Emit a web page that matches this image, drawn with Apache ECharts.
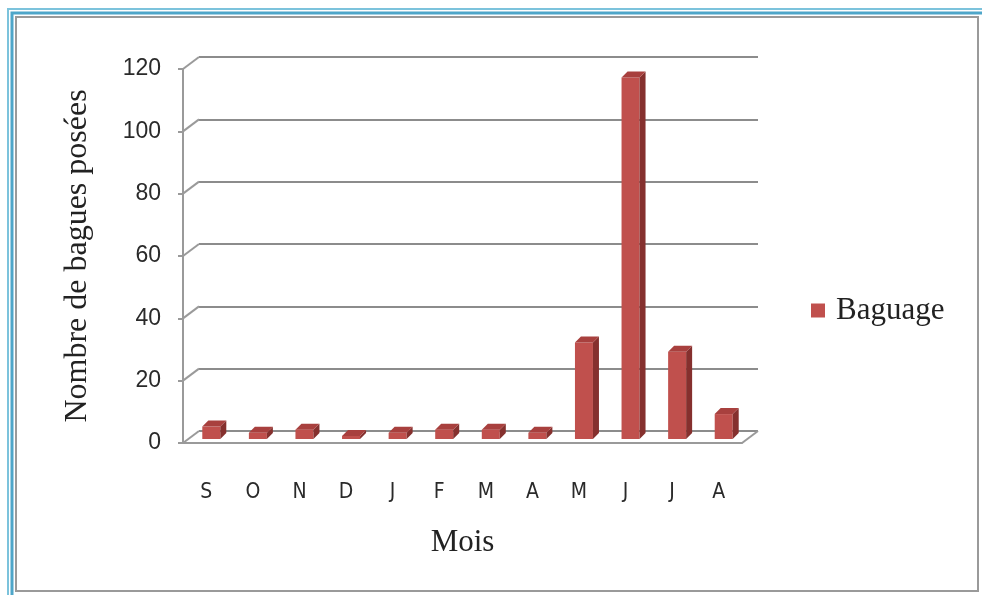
<!DOCTYPE html>
<html>
<head>
<meta charset="utf-8">
<script src="https://cdn.jsdelivr.net/npm/echarts@6/dist/echarts.min.js"></script>
<style>
  html, body { margin: 0; padding: 0; background: #fff; }
  #main { width: 982px; height: 595px; }
</style>
</head>
<body>
<div id="main"></div>
<script>
var mois = ['S', 'O', 'N', 'D', 'J', 'F', 'M', 'A', 'M', 'J', 'J', 'A'];
var baguage = [4, 2, 3, 1, 2, 3, 3, 2, 31, 116, 28, 8];
var yTicks = [0, 20, 40, 60, 80, 100, 120];

// depth of the fake 3d box
var depthX = 16, depthY = -12;

var chartDom = document.getElementById('main');
var myChart = echarts.init(chartDom);
var option;

function renderBar(params, api) {
    var i = api.value(0);
    var v = api.value(1);
    var base = api.coord([i, 0]);
    var top = api.coord([i, v]);
    var w = 18, dx = 6, dy = 6;
    var x0 = base[0] + 5 - w / 2;
    var yb = base[1] - 4;
    var yt = top[1] - 4;
    return {
        type: 'group',
        children: [
            {
                type: 'rect',
                shape: { x: x0, y: yt, width: w, height: yb - yt },
                style: { fill: '#C0504D' }
            },
            {
                type: 'polygon',
                shape: { points: [[x0 + w, yt], [x0 + w + dx, yt - dy], [x0 + w + dx, yb - dy], [x0 + w, yb]] },
                style: { fill: '#85302E' }
            },
            {
                type: 'polygon',
                shape: { points: [[x0, yt], [x0 + dx, yt - dy], [x0 + w + dx, yt - dy], [x0 + w, yt]] },
                style: { fill: '#A8403E' }
            }
        ]
    };
}

function renderWall(params, api) {
    var cs = params.coordSys;
    var y = api.coord([0, api.value(1)])[1];
    var kids = [{
        type: 'line',
        shape: { x1: cs.x, y1: y, x2: cs.x + depthX, y2: y + depthY },
        style: { stroke: '#9a9a9a', lineWidth: 2 }
    }];
    if (api.value(1) === 0) {
        kids.push({
            type: 'line',
            shape: { x1: cs.x + cs.width, y1: y, x2: cs.x + cs.width + depthX, y2: y + depthY },
            style: { stroke: '#9a9a9a', lineWidth: 2 }
        });
    }
    return { type: 'group', children: kids };
}

option = {
    backgroundColor: '#ffffff',
    animation: false,
    graphic: [
        { type: 'rect', shape: { x: 8, y: 9, width: 1000, height: 600 }, style: { fill: null, stroke: '#7cc3dc', lineWidth: 2 } },
        { type: 'rect', shape: { x: 12, y: 13, width: 1000, height: 600 }, style: { fill: null, stroke: '#4ea6c9', lineWidth: 3 } },
        { type: 'rect', shape: { x: 16, y: 17, width: 962, height: 574 }, style: { fill: null, stroke: '#9a9a9a', lineWidth: 2 } }
    ],
    legend: {
        left: 806,
        top: 290,
        itemWidth: 14,
        itemHeight: 14,
        icon: 'rect',
        data: ['Baguage'],
        textStyle: { fontFamily: 'Liberation Serif', fontSize: 31, color: '#222', padding: [0, 0, 0, 6] }
    },
    grid: [
        { left: 183, top: 69, width: 559, height: 374 },
        { left: 199, top: 57, width: 559, height: 374 }
    ],
    xAxis: [
        {
            type: 'category',
            gridIndex: 0,
            data: mois,
            name: 'Mois',
            nameLocation: 'middle',
            nameGap: 84,
            nameTextStyle: { fontFamily: 'Liberation Serif', fontSize: 31, color: '#222' },
            axisLine: { lineStyle: { color: '#9a9a9a', width: 2 } },
            axisTick: { show: false },
            axisLabel: {
                margin: 39,
                fontFamily: 'Liberation Sans Narrow, DejaVu Sans Condensed, sans-serif',
                fontSize: 21,
                color: '#2a2a2a'
            }
        },
        {
            type: 'category',
            gridIndex: 1,
            data: mois,
            show: false
        }
    ],
    yAxis: [
        {
            type: 'value',
            gridIndex: 0,
            min: 0,
            max: 120,
            interval: 20,
            name: 'Nombre de bagues posées',
            nameLocation: 'middle',
            nameGap: 89,
            nameTextStyle: { fontFamily: 'Liberation Serif', fontSize: 32, color: '#222' },
            axisLine: { show: true, lineStyle: { color: '#9a9a9a', width: 2 } },
            axisTick: { show: true, length: 5, lineStyle: { color: '#9a9a9a', width: 2 } },
            splitLine: { show: false },
            axisLabel: {
                margin: 22,
                fontFamily: 'Liberation Sans',
                fontSize: 23,
                color: '#2a2a2a',
                formatter: function (v) { return yTicks.indexOf(v) >= 0 ? String(v) : ''; }
            }
        },
        {
            type: 'value',
            gridIndex: 1,
            min: 0,
            max: 120,
            interval: 20,
            axisLine: { show: false },
            axisTick: { show: false },
            axisLabel: { show: false },
            splitLine: { show: true, lineStyle: { color: '#8c8c8c', width: 2 } }
        }
    ],
    series: [
        {
            name: 'wall',
            type: 'custom',
            xAxisIndex: 0,
            yAxisIndex: 0,
            silent: true,
            renderItem: renderWall,
            data: yTicks.map(function (t) { return [0, t]; }),
            z: 1
        },
        {
            name: 'Baguage',
            type: 'custom',
            xAxisIndex: 0,
            yAxisIndex: 0,
            itemStyle: { color: '#C0504D' },
            renderItem: renderBar,
            encode: { x: 0, y: 1 },
            data: baguage.map(function (v, i) { return [i, v]; }),
            z: 3
        }
    ]
};

option && myChart.setOption(option);
</script>
</body>
</html>
